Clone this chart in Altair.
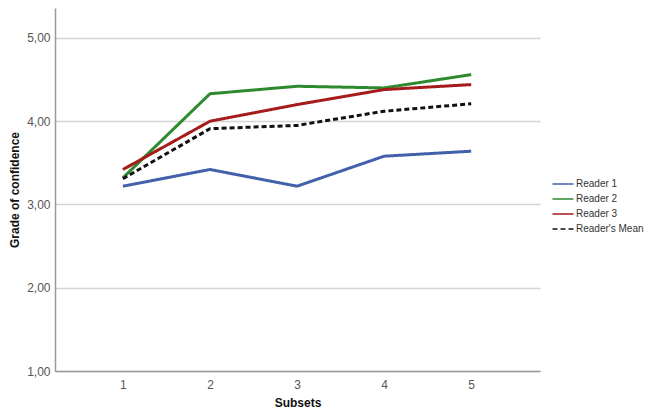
import altair as alt
import pandas as pd

subsets = [1, 2, 3, 4, 5]
reader1 = [3.22, 3.42, 3.22, 3.58, 3.64]
reader2 = [3.32, 4.33, 4.42, 4.40, 4.56]
reader3 = [3.42, 4.00, 4.20, 4.38, 4.44]
mean = [3.31, 3.91, 3.95, 4.12, 4.21]

series_names = ["Reader 1", "Reader 2", "Reader 3", "Reader's Mean"]
series_values = [reader1, reader2, reader3, mean]
colors = ["#4360ad", "#2e8a2e", "#a61b1b", "#111111"]
dashes = [[1, 0], [1, 0], [1, 0], [5, 3]]

rows = []
for order, (name, vals) in enumerate(zip(series_names, series_values)):
    for s, v in zip(subsets, vals):
        rows.append({"Subset": s, "Value": v, "Series": name, "order": order})
df = pd.DataFrame(rows)

font = "Liberation Sans"

chart = alt.Chart(df).mark_line(strokeWidth=3).encode(
    x=alt.X("Subset:Q",
            scale=alt.Scale(domain=[0.22, 5.79], nice=False, zero=False),
            axis=alt.Axis(values=subsets, format="d", title="Subsets", grid=False,
                          ticks=False, domainColor="#9a9a9a", domainWidth=1.5,
                          labelColor="#555555", labelFontSize=12, labelFont=font,
                          labelPadding=8, titleFont=font, titleFontSize=12,
                          titleFontWeight="bold", titleColor="#111111", titlePadding=7)),
    y=alt.Y("Value:Q",
            scale=alt.Scale(domain=[1, 5.36], nice=False, zero=False),
            axis=alt.Axis(values=[1, 2, 3, 4, 5],
                          labelExpr="replace(format(datum.value, '.2f'), '.', ',')",
                          title="Grade of confidence", grid=True, gridColor="#d4d4d4",
                          gridWidth=1.5, ticks=False, domainColor="#9a9a9a", domainWidth=1.5,
                          labelColor="#555555", labelFontSize=12, labelFont=font,
                          labelPadding=5, titleFont=font, titleFontSize=12,
                          titleFontWeight="bold", titleColor="#111111", titlePadding=5)),
    color=alt.Color("Series:N",
                    scale=alt.Scale(domain=series_names, range=colors),
                    legend=alt.Legend(title=None, orient="none", legendX=500, legendY=168,
                                      symbolType="M-1.5,0H1.5", symbolStrokeWidth=1.5,
                                      symbolSize=196, labelFont=font, labelFontSize=10,
                                      labelColor="#333333", rowPadding=2, labelOffset=5,
                                      labelLimit=200)),
    strokeDash=alt.StrokeDash("Series:N",
                              scale=alt.Scale(domain=series_names, range=dashes),
                              legend=None),
    order="order:Q",
    detail="Series:N",
).properties(
    width=485,
    height=363,
    autosize=alt.AutoSizeParams(type="none"),
    padding={"left": 47, "top": 0, "right": 109, "bottom": 40},
).configure_view(stroke=None)

chart.save("out.html", embed_options={"renderer": "svg", "actions": False})
